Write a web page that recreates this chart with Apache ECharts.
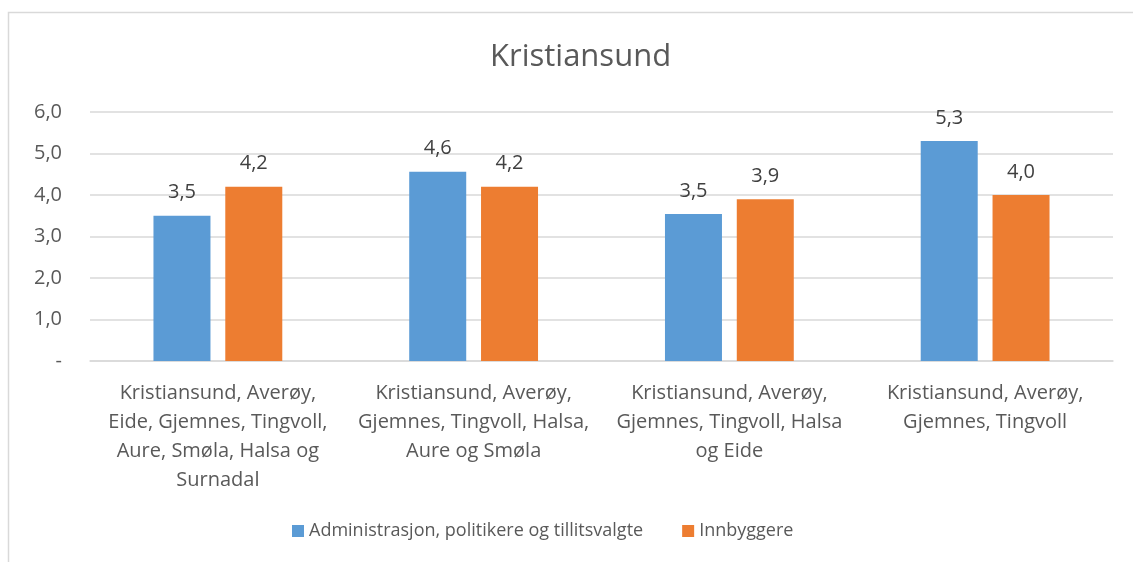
<!DOCTYPE html>
<html>
<head>
<meta charset="utf-8">
<script src="https://cdn.jsdelivr.net/npm/echarts@6/dist/echarts.min.js"></script>
<style>
html,body{margin:0;padding:0;background:#fff;}
#chart{width:1133px;height:562px;}
</style>
</head>
<body>
<div id="chart"></div>
<script>
const title = "Kristiansund";
const categories = [
  "Kristiansund, Averøy,\nEide, Gjemnes, Tingvoll,\nAure, Smøla, Halsa og\nSurnadal",
  "Kristiansund, Averøy,\nGjemnes, Tingvoll, Halsa,\nAure og Smøla",
  "Kristiansund, Averøy,\nGjemnes, Tingvoll, Halsa\nog Eide",
  "Kristiansund, Averøy,\nGjemnes, Tingvoll"
];
const seriesNames = ["Administrasjon, politikere og tillitsvalgte", "Innbyggere"];
const adminValues = [3.5, 4.56, 3.54, 5.3];
const innbyggereValues = [4.2, 4.2, 3.9, 4.0];
const yTicks = [0, 1, 2, 3, 4, 5, 6];

const FONT = "Open Sans";
const fmt = v => v === 0 ? "-" : v.toFixed(1).replace(".", ",");

const chart = echarts.init(document.getElementById("chart"), null, {renderer: "canvas"});
chart.setOption({
  animation: false,
  backgroundColor: "#fff",
  textStyle: {fontFamily: FONT},
  graphic: [{
    type: "rect", silent: true, z: -1,
    shape: {x: 8.5, y: 12.5, width: 1300, height: 700},
    style: {fill: "none", stroke: "#d9d9d9", lineWidth: 1.5}
  }],
  title: {
    text: title, left: 485, top: 37,
    textStyle: {fontFamily: FONT, fontSize: 31, fontWeight: "normal", color: "#595959"}
  },
  legend: {
    bottom: 17, left: 287, itemWidth: 12, itemHeight: 12, itemGap: 39,
    icon: "rect",
    textStyle: {fontFamily: FONT, fontSize: 18, color: "#595959"},
    data: seriesNames
  },
  grid: {left: 90, right: 20, top: 112, bottom: 201, containLabel: false},
  xAxis: {
    type: "category", data: categories,
    axisLine: {show: true, lineStyle: {color: "#d9d9d9", width: 1.5}},
    axisTick: {show: false},
    axisLabel: {interval: 0, margin: 18, fontFamily: FONT, fontSize: 20, color: "#595959", lineHeight: 29, align: "center"}
  },
  yAxis: {
    type: "value", min: 0, max: 6, interval: 1,
    axisLine: {show: false}, axisTick: {show: false},
    splitLine: {lineStyle: {color: "#d9d9d9", width: 1.5}},
    axisLabel: {margin: 28, fontFamily: FONT, fontSize: 20, color: "#595959", formatter: fmt}
  },
  series: [
    {
      name: seriesNames[0], type: "bar", data: adminValues, barWidth: 57, barGap: "26%",
      itemStyle: {color: "#5b9bd5"},
      label: {show: true, position: "top", distance: 13, fontFamily: FONT, fontSize: 20, color: "#404040",
        formatter: p => p.value.toFixed(1).replace(".", ",")}
    },
    {
      name: seriesNames[1], type: "bar", data: innbyggereValues, barWidth: 57,
      itemStyle: {color: "#ed7d31"},
      label: {show: true, position: "top", distance: 13, fontFamily: FONT, fontSize: 20, color: "#404040",
        formatter: p => p.value.toFixed(1).replace(".", ",")}
    }
  ]
});
</script>
</body>
</html>
